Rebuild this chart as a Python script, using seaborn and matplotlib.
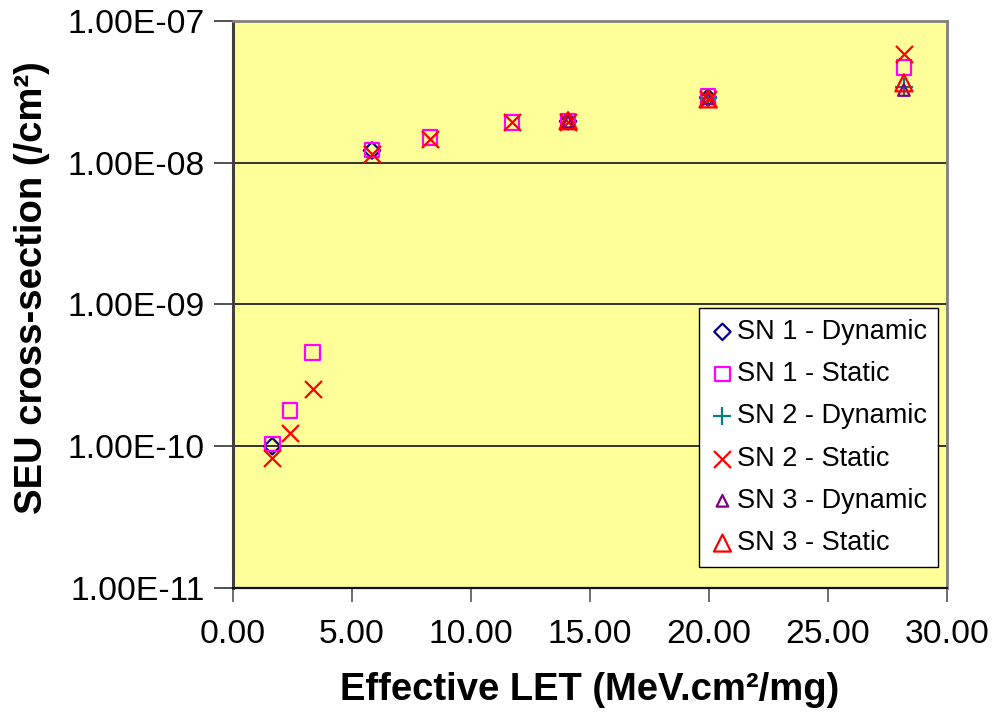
import matplotlib
matplotlib.use("Agg")
import matplotlib.pyplot as plt
import seaborn as sns
import numpy as np
import pandas as pd

# Data
sn1_dyn_x = [1.66, 5.85, 14.09, 19.97]
sn1_dyn_y = [1.00e-10, 1.22e-8, 1.96e-8, 2.88e-8]

sn1_sta_x = [1.66, 2.41, 3.36, 5.85, 8.29, 11.74, 14.09, 19.97, 28.2]
sn1_sta_y = [1.04e-10, 1.78e-10, 4.57e-10, 1.23e-8, 1.50e-8, 1.93e-8, 1.95e-8, 2.92e-8, 4.69e-8]

sn2_dyn_x = [19.97, 28.2]
sn2_dyn_y = [2.85e-8, 3.42e-8]

sn2_sta_x = [1.66, 2.41, 3.36, 5.85, 8.29, 11.74, 14.09, 19.97, 28.2]
sn2_sta_y = [8.3e-11, 1.23e-10, 2.54e-10, 1.15e-8, 1.46e-8, 1.93e-8, 1.93e-8, 2.82e-8, 5.85e-8]

sn3_dyn_x = [14.09, 19.97, 28.2]
sn3_dyn_y = [1.95e-8, 2.85e-8, 3.26e-8]

sn3_sta_x = [14.09, 19.97, 28.2]
sn3_sta_y = [1.98e-8, 2.82e-8, 3.66e-8]

labels = ["SN 1 - Dynamic", "SN 1 - Static", "SN 2 - Dynamic",
          "SN 2 - Static", "SN 3 - Dynamic", "SN 3 - Static"]
x_ticks = [0, 5, 10, 15, 20, 25, 30]
y_ticks = [1e-11, 1e-10, 1e-9, 1e-8, 1e-7]

series = [
    (sn1_dyn_x, sn1_dyn_y, "D", "#000080", 70, True),
    (sn1_sta_x, sn1_sta_y, "s", "#FF00FF", 110, True),
    (sn2_dyn_x, sn2_dyn_y, "+", "#008080", 150, False),
    (sn2_sta_x, sn2_sta_y, "x", "#FF0000", 150, False),
    (sn3_dyn_x, sn3_dyn_y, "^", "#800080", 70, True),
    (sn3_sta_x, sn3_sta_y, "^", "#FF0000", 150, True),
]

sns.set_theme(style="white")
plt.rcParams['font.family'] = ['Liberation Sans', 'DejaVu Sans']
plt.rcParams['text.color'] = 'black'
plt.rcParams['xtick.color'] = 'black'
plt.rcParams['ytick.color'] = 'black'
plt.rcParams['axes.labelcolor'] = 'black'

fig = plt.figure(figsize=(9.95, 7.18), dpi=100)
ax = fig.add_axes([0.2339, 0.1811, 0.7176, 0.7897])
ax.set_facecolor("#FFFF99")

handles = []
for (xs, ys, mk, col, s, filled), lab in zip(series, labels):
    df = pd.DataFrame({"x": xs, "y": ys})
    if filled:
        sns.scatterplot(data=df, x="x", y="y", marker=mk, s=s, ax=ax,
                        facecolor="none", edgecolor=col, linewidth=1.6,
                        zorder=3, legend=False)
    else:
        sns.scatterplot(data=df, x="x", y="y", marker=mk, s=s, ax=ax,
                        color=col, linewidth=1.6, zorder=3, legend=False)
    coll = ax.collections[-1]
    if filled:
        coll.set_facecolor("none")
        coll.set_edgecolor(col)
    else:
        coll.set_edgecolor(col)
        coll.set_facecolor(col)
    coll.set_label(lab)
    handles.append(coll)

ax.set_yscale("log")
ax.set_xlim(0, 30)
ax.set_ylim(1e-11, 1e-7)
ax.set_xticks(x_ticks)
ax.set_xticklabels([f"{v:.2f}" for v in x_ticks])
ax.set_yticks(y_ticks)
ax.set_yticklabels([f"{v:.2E}" for v in y_ticks])
ax.yaxis.set_minor_locator(matplotlib.ticker.NullLocator())

for v in y_ticks[1:-1]:
    ax.axhline(v, color="#222222", lw=1.3, zorder=1)

ax.tick_params(axis="y", which="major", length=14, width=1.2, color="#333333",
               labelsize=24.2, pad=6, direction="out", left=True, labelcolor="black")
ax.tick_params(axis="x", which="major", length=10, width=1.2, color="#555555",
               labelsize=24.2, pad=12, direction="out", bottom=True, labelcolor="black")

ax.spines["left"].set_color("#404040")
ax.spines["left"].set_linewidth(2.2)
ax.spines["bottom"].set_color("#111111")
ax.spines["bottom"].set_linewidth(1.6)
for side in ["top", "right"]:
    ax.spines[side].set_color("#808080")
    ax.spines[side].set_linewidth(2)

ax.set_xlabel("Effective LET (MeV.cm²/mg)", fontsize=27.5, fontweight="bold", labelpad=16)
ax.set_ylabel("SEU cross-section (/cm²)", fontsize=27.5, fontweight="bold", labelpad=13)
ax.yaxis.label.set_y(0.53)

leg = ax.legend(handles=handles, labels=labels, loc="lower right",
                bbox_to_anchor=(0.988, 0.037), fontsize=19.5, frameon=True,
                fancybox=False, edgecolor="black", framealpha=1,
                handletextpad=0.1, handlelength=0.9, labelspacing=0.6,
                borderpad=0.4, borderaxespad=0)
leg.get_frame().set_linewidth(1.0)
for t in leg.get_texts():
    t.set_color("black")

fig.savefig("out.png", dpi=100)
